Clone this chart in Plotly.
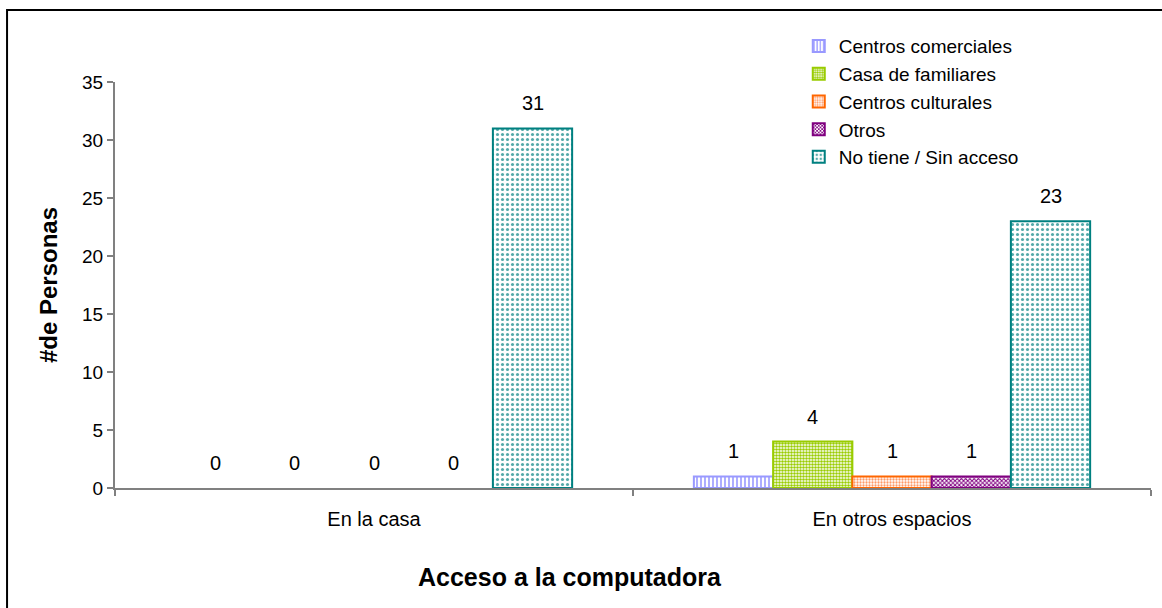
import plotly.graph_objects as go

# Data
categorias = ["En la casa", "En otros espacios"]
series = ["Centros comerciales", "Casa de familiares", "Centros culturales", "Otros", "No tiene / Sin acceso"]
centros_comerciales = [0, 1]
casa_familiares = [0, 4]
centros_culturales = [0, 1]
otros = [0, 1]
no_tiene = [31, 23]

valores = [centros_comerciales, casa_familiares, centros_culturales, otros, no_tiene]
colores = ["#9999FF", "#99CC00", "#FF6600", "#800080", "#008080"]
patrones = [
    dict(shape="|", size=4, solidity=0.4, fgcolor="#9999FF"),
    dict(shape=".", size=3, solidity=0.55, fgcolor="#99CC00"),
    dict(shape=".", size=3, solidity=0.45, fgcolor="#FF9966"),
    dict(shape="x", size=3, solidity=0.55, fgcolor="#800080"),
    dict(shape=".", size=5, solidity=0.3, fgcolor="#55AAAA"),
]

FONT = "Liberation Sans, Arial, sans-serif"
BARGAP = 0.235

fig = go.Figure()
for nombre, vals, color, pat in zip(series, valores, colores, patrones):
    # points listed last category first so the legend swatch picks up the outlined bar
    xs = categorias[::-1]
    ys = vals[::-1]
    fig.add_trace(go.Bar(
        name=nombre,
        x=xs,
        y=ys,
        marker=dict(
            color="white",
            line=dict(color=color, width=[2 if v > 0 else 0 for v in ys]),
            pattern=dict(bgcolor="white", fillmode="replace", **pat),
        ),
    ))

# Value labels above each bar, placed at the centre of its slot in the group
n = len(series)
ancho = (1 - BARGAP) / n
for i, vals in enumerate(valores):
    desplazamiento = -(1 - BARGAP) / 2 + ancho * (i + 0.5)
    for j, v in enumerate(vals):
        fig.add_annotation(
            x=j + desplazamiento, y=v, xref="x", yref="y",
            text=str(v), showarrow=False,
            yanchor="middle", yshift=25,
            font=dict(family=FONT, size=20, color="black"),
        )

# X-axis title
fig.add_annotation(
    x=0.439, y=-0.219, xref="paper", yref="paper",
    text="<b>Acceso a la computadora</b>", showarrow=False,
    xanchor="center", yanchor="middle",
    font=dict(family=FONT, size=25, color="black"),
)

fig.update_layout(
    width=1162,
    height=608,
    barmode="group",
    bargap=BARGAP,
    bargroupgap=0,
    plot_bgcolor="white",
    paper_bgcolor="white",
    margin=dict(l=115, r=11, t=82, b=120),
    font=dict(family=FONT, size=20, color="black"),
    legend=dict(
        x=0.66, y=1.135, xanchor="left", yanchor="top",
        font=dict(family=FONT, size=19, color="black"),
        bgcolor="rgba(0,0,0,0)",
        tracegroupgap=0,
    ),
    xaxis=dict(
        categoryorder="array", categoryarray=categorias,
        showline=True, linecolor="#808080", linewidth=2,
        ticks="outside", tickson="boundaries", ticklen=6, tickcolor="#808080", tickwidth=2,
        showgrid=False,
        tickfont=dict(family=FONT, size=20),
        ticklabelstandoff=12,
    ),
    yaxis=dict(
        title=dict(text="<b>#de Personas</b>", font=dict(family=FONT, size=24), standoff=18),
        range=[0, 35], dtick=5,
        showline=True, linecolor="#808080", linewidth=2,
        ticks="outside", ticklen=6, tickcolor="#808080", tickwidth=2,
        showgrid=False, zeroline=False,
        tickfont=dict(family=FONT, size=19),
    ),
)

# Chart frame
fig.add_shape(type="rect", xref="paper", yref="paper",
              x0=-0.1042, x1=1.2, y0=-0.6, y1=1.1773,
              line=dict(color="black", width=2), fillcolor="rgba(0,0,0,0)", layer="below")

fig.write_html("out.html")
